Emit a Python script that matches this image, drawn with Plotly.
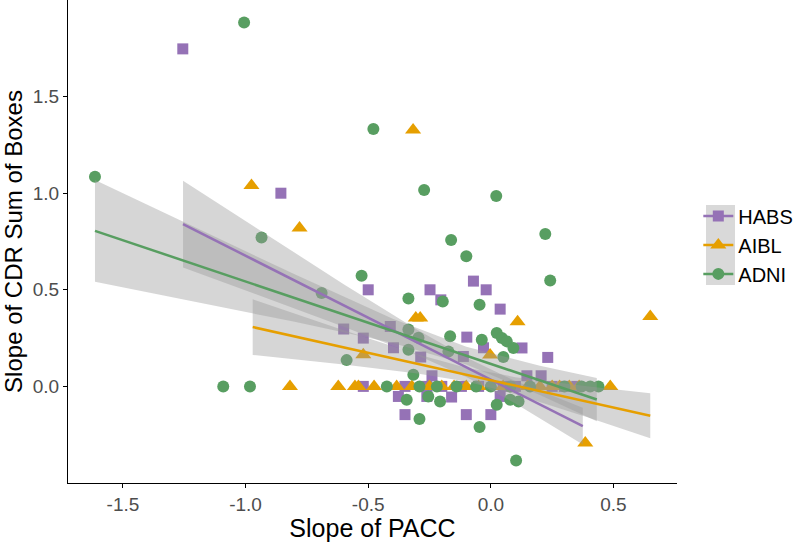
import plotly.graph_objects as go

# ---------------- data ----------------
habs_x = [-1.256, -0.856, -0.50, -0.248, -0.204, -0.071, -0.019, 0.038, -0.60, -0.52,
          -0.41, -0.397, -0.286, -0.098, -0.03, 0.127, 0.232, -0.112, -0.24, 0.147,
          0.205, -0.52, -0.35, -0.261, -0.377, -0.261, -0.16, 0.038, -0.35, -0.10,
          0.0, -0.20, -0.12, -0.05, 0.05, 0.10, 0.25, 0.30, 0.35]
habs_y = [1.747, 1.0, 0.50, 0.50, 0.448, 0.545, 0.50, 0.40, 0.297, 0.25,
          0.31, 0.20, 0.152, 0.255, 0.20, 0.199, 0.15, 0.155, 0.055, 0.055,
          0.055, 0.0, 0.0, 0.0, -0.052, -0.052, -0.055, -0.052, -0.146, -0.146,
          -0.146, 0.0, 0.0, 0.0, 0.0, 0.0, 0.0, 0.0, 0.0]

aibl_x = [-0.976, -0.78, -0.317, -0.306, -0.288, 0.109, 0.65, -0.52, -0.003, 0.385,
          -0.819, -0.622, -0.554, -0.54, -0.476, -0.384, -0.322, -0.25, -0.20, -0.15,
          -0.10, -0.05, 0.0, 0.05, 0.15, 0.20, 0.25, 0.28, 0.32, 0.36, 0.487]
aibl_y = [1.04, 0.82, 1.327, 0.354, 0.354, 0.334, 0.362, 0.164, 0.162, -0.293,
          0.0, 0.0, 0.0, 0.0, 0.0, 0.0, 0.0, 0.0, 0.0, 0.0,
          0.0, 0.0, 0.0, 0.0, 0.0, 0.0, 0.0, 0.0, 0.0, 0.0, 0.0]

adni_x = [-1.614, -1.006, -0.479, -0.935, -0.272, 0.022, 0.222, 0.242, -0.162, -0.10,
          -0.527, -0.69, -0.336, -0.196, -0.046, -0.336, -0.295, -0.336, -0.166, -0.037,
          0.024, 0.045, 0.065, 0.092, 0.051, -0.173, -0.588, -0.316, -1.091, -0.982,
          -0.424, -0.291, -0.22, -0.14, -0.06, 0.0, 0.08, 0.16, 0.30, 0.37,
          0.405, 0.439, -0.343, -0.255, -0.207, 0.024, 0.079, 0.113, -0.291, -0.046,
          0.103]
adni_y = [1.085, 1.883, 1.332, 0.771, 1.017, 0.985, 0.789, 0.548, 0.758, 0.674,
          0.573, 0.483, 0.455, 0.44, 0.423, 0.295, 0.252, 0.19, 0.259, 0.241,
          0.276, 0.25, 0.233, 0.199, 0.152, 0.181, 0.136, 0.06, 0.0, 0.0,
          0.0, 0.0, 0.0, 0.0, 0.0, 0.0, 0.0, 0.0, 0.0, 0.0,
          0.0, 0.0, -0.069, -0.052, -0.078, -0.095, -0.069, -0.078, -0.169, -0.21,
          -0.383]

# fitted lines and confidence bands
habs_fit_x = [-1.255, -0.9, -0.6, -0.3, -0.1, 0.1, 0.375]
habs_fit_y = [0.840, 0.612, 0.419, 0.227, 0.099, -0.030, -0.206]
habs_fit_hw = [0.224, 0.161, 0.110, 0.066, 0.050, 0.058, 0.095]

aibl_fit_x = [-0.971, -0.6, -0.3, -0.1, 0.1, 0.4, 0.65]
aibl_fit_y = [0.307, 0.202, 0.117, 0.061, 0.004, -0.081, -0.152]
aibl_fit_hw = [0.144, 0.089, 0.050, 0.035, 0.044, 0.081, 0.117]

adni_fit_x = [-1.614, -1.2, -0.8, -0.4, -0.1, 0.2, 0.432]
adni_fit_y = [0.805, 0.628, 0.457, 0.287, 0.159, 0.031, -0.068]
adni_fit_hw = [0.263, 0.191, 0.123, 0.063, 0.046, 0.076, 0.112]

x_ticks = [-1.5, -1.0, -0.5, 0.0, 0.5]
x_tick_labels = ["-1.5", "-1.0", "-0.5", "0.0", "0.5"]
y_ticks = [0.0, 0.5, 1.0, 1.5]
y_tick_labels = ["0.0", "0.5", "1.0", "1.5"]

groups = ["HABS", "AIBL", "ADNI"]

# ---------------- styling ----------------
C_HABS = "#9572b6"
C_AIBL = "#e69f00"
C_ADNI = "#589e61"
BAND = "rgba(153,153,153,0.4)"
FONT = "Liberation Sans, Arial, sans-serif"

series = [
    ("HABS", habs_x, habs_y, habs_fit_x, habs_fit_y, habs_fit_hw, C_HABS, "square", 11),
    ("AIBL", aibl_x, aibl_y, aibl_fit_x, aibl_fit_y, aibl_fit_hw, C_AIBL, "triangle-up", 14),
    ("ADNI", adni_x, adni_y, adni_fit_x, adni_fit_y, adni_fit_hw, C_ADNI, "circle", 12),
]

fig = go.Figure()

# points
for name, xs, ys, fx, fy, hw, col, sym, sz in series:
    fig.add_trace(go.Scatter(x=xs, y=ys, mode="markers", showlegend=False,
                             marker=dict(color=col, symbol=sym, size=sz, line=dict(width=0))))

# bands over the points
for name, xs, ys, fx, fy, hw, col, sym, sz in series:
    upper = [a + b for a, b in zip(fy, hw)]
    lower = [a - b for a, b in zip(fy, hw)]
    fig.add_trace(go.Scatter(x=fx + fx[::-1], y=upper + lower[::-1], mode="lines",
                             fill="toself", fillcolor=BAND, line=dict(width=0),
                             hoverinfo="skip", showlegend=False))

# fit lines
for name, xs, ys, fx, fy, hw, col, sym, sz in series:
    fig.add_trace(go.Scatter(x=[fx[0], fx[-1]], y=[fy[0], fy[-1]], mode="lines",
                             line=dict(color=col, width=2.5), showlegend=False))

# legend entries
for name, xs, ys, fx, fy, hw, col, sym, sz in series:
    fig.add_trace(go.Scatter(x=[None], y=[None], mode="lines+markers", name=name,
                             line=dict(color=col, width=2.5),
                             marker=dict(color=col, symbol=sym, size=sz)))

fig.update_layout(
    width=800, height=542,
    margin=dict(l=68, r=123, t=0, b=59),
    paper_bgcolor="white", plot_bgcolor="white",
    font=dict(family=FONT, size=19, color="#4d4d4d"),
    showlegend=True,
    legend=dict(x=1.035, y=0.493, xanchor="left", yanchor="middle",
                font=dict(family=FONT, size=20, color="black"),
                bgcolor="rgba(0,0,0,0)", tracegroupgap=0, itemwidth=30),
    shapes=[dict(type="rect", xref="paper", yref="paper",
                 x0=1.0476, x1=1.0952, y0=0.410, y1=0.5756,
                 fillcolor="#d9d9d9", line=dict(width=0), layer="below")],
)
fig.update_xaxes(range=[-1.724, 0.759], tickvals=x_ticks, ticktext=x_tick_labels,
                 showgrid=False, zeroline=False, showline=True, linecolor="black",
                 linewidth=1.3, ticks="outside", ticklen=4, tickcolor="black",
                 tickfont=dict(size=19, color="#4d4d4d"),
                 title=dict(text="Slope of PACC", font=dict(size=25, color="black"), standoff=4))
fig.update_yaxes(range=[-0.5, 2.0], tickvals=y_ticks, ticktext=y_tick_labels,
                 showgrid=False, zeroline=False, showline=True, linecolor="black",
                 linewidth=1.3, ticks="outside", ticklen=4, tickcolor="black",
                 tickfont=dict(size=19, color="#4d4d4d"),
                 title=dict(text="Slope of CDR Sum of Boxes", font=dict(size=24, color="black"), standoff=4))

fig.write_html("out.html", config={"displayModeBar": False},
               post_script="document.body.style.margin='0';")
